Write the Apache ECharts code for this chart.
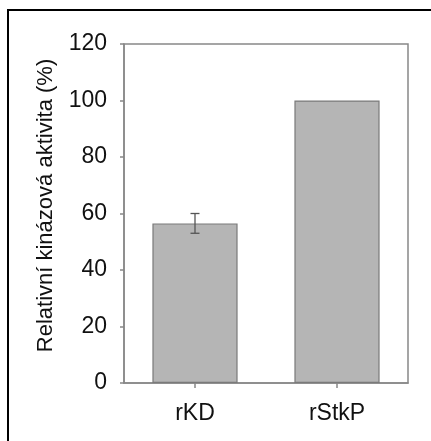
<!DOCTYPE html>
<html>
<head>
<meta charset="utf-8">
<script src="https://cdn.jsdelivr.net/npm/echarts@6/dist/echarts.min.js"></script>
<style>
  html, body { margin: 0; padding: 0; background: #fff; }
  #chart { width: 431px; height: 441px; }
</style>
</head>
<body>
<div id="chart"></div>
<script>
var categories = ['rKD', 'rStkP'];
var activity = [56.5, 100];
var errors = [3.5, 0];
var yTicks = [0, 20, 40, 60, 80, 100, 120];

var chart = echarts.init(document.getElementById('chart'));

var errorData = categories.map(function (c, i) {
  return [i, activity[i] - errors[i], activity[i] + errors[i]];
}).filter(function (d, i) { return errors[i] > 0; });

var option = {
  backgroundColor: '#fff',
  animation: false,
  textStyle: { fontFamily: 'Liberation Sans, Arial, sans-serif' },
  graphic: [{
    type: 'rect',
    shape: { x: 8, y: 10, width: 440, height: 450 },
    style: { fill: 'none', stroke: '#000', lineWidth: 2 },
    silent: true
  }],
  grid: {
    left: 124, top: 44, right: 23, bottom: 58,
    show: true,
    borderColor: '#888',
    borderWidth: 1.5,
    backgroundColor: 'transparent'
  },
  xAxis: {
    type: 'category',
    data: categories,
    axisLine: { lineStyle: { color: '#888', width: 1.5 } },
    axisTick: { show: true, alignWithLabel: true, length: 5, lineStyle: { color: '#888', width: 1.5 } },
    axisLabel: { color: '#111', fontSize: 23, margin: 19 },
    splitLine: { show: false }
  },
  yAxis: {
    type: 'value',
    min: 0,
    max: 120,
    interval: 20,
    name: 'Relativní kinázová aktivita (%)',
    nameLocation: 'middle',
    nameGap: 67,
    nameTextStyle: { color: '#111', fontSize: 22, padding: [0, 0, 0, 16] },
    axisLine: { show: true, lineStyle: { color: '#888', width: 1.5 } },
    axisTick: { show: true, length: 4, lineStyle: { color: '#888', width: 1.5 } },
    axisLabel: {
      color: '#111', fontSize: 23, margin: 17,
      formatter: function (v) { return yTicks.indexOf(v) >= 0 ? String(v) : ''; }
    },
    splitLine: { show: false }
  },
  series: [
    {
      type: 'bar',
      data: activity,
      barWidth: '60%',
      itemStyle: { color: '#b5b5b5', borderColor: '#7a7a7a', borderWidth: 1.2 }
    },
    {
      type: 'custom',
      data: errorData,
      z: 10,
      renderItem: function (params, api) {
        var x = api.value(0);
        var lo = api.coord([x, api.value(1)]);
        var hi = api.coord([x, api.value(2)]);
        var w = 4.5;
        var st = { stroke: '#555', lineWidth: 1.3 };
        return {
          type: 'group',
          children: [
            { type: 'line', shape: { x1: lo[0], y1: lo[1], x2: hi[0], y2: hi[1] }, style: st },
            { type: 'line', shape: { x1: lo[0] - w, y1: lo[1], x2: lo[0] + w, y2: lo[1] }, style: st },
            { type: 'line', shape: { x1: hi[0] - w, y1: hi[1], x2: hi[0] + w, y2: hi[1] }, style: st }
          ]
        };
      }
    }
  ]
};

chart.setOption(option);
</script>
</body>
</html>
